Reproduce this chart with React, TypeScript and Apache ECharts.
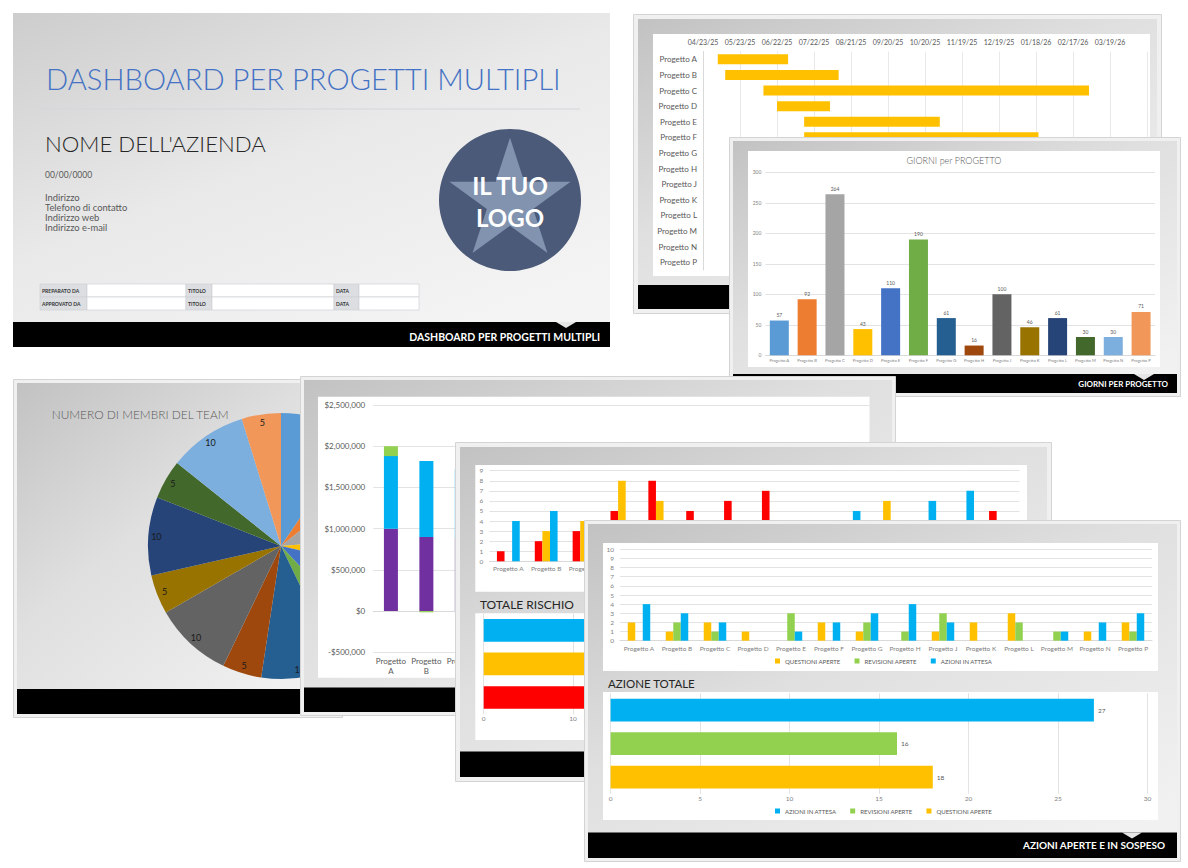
import React, { useEffect, useRef } from "react";
import * as echarts from "echarts";

const FONT = "Lato, 'Open Sans', 'DejaVu Sans', sans-serif";

// ---------- DATA ----------
const projects = ["Progetto A", "Progetto B", "Progetto C", "Progetto D", "Progetto E", "Progetto F", "Progetto G", "Progetto H", "Progetto J", "Progetto K", "Progetto L", "Progetto M", "Progetto N", "Progetto P"];
const projectColors = ["#5b9bd5", "#ed7d31", "#a5a5a5", "#ffc000", "#4472c4", "#70ad47", "#255e91", "#9e480e", "#636363", "#997300", "#264478", "#43682b", "#7cafdd", "#f1975a"];
const projectDays = [57, 92, 264, 43, 110, 190, 61, 16, 100, 46, 61, 30, 30, 71];
const ganttStartOffsets = [12, 18, 49, 60, 82, 82, 100, 125, 150, 175, 200, 230, 255, 270];
const ganttStartDate = Date.UTC(2025, 3, 23);
const teamMembers = [10, 5, 10, 5, 10, 5, 10, 5, 10, 5, 10, 5, 10, 5];
const budgetSpent = [1000000, 900000, 880000, 700000, 950000, 1100000, 600000, 300000, 800000, 500000, 650000, 400000, 350000, 750000];
const budgetRemaining = [880000, 920000, 840000, 500000, 700000, 600000, 400000, 250000, 600000, 300000, 450000, 200000, 250000, 500000];
const budgetOver = [120000, -15000, 0, 0, 0, 0, 0, 0, 0, 0, 0, 0, 0, 0];
const riskHigh = [1, 2, 3, 5, 8, 5, 6, 7, 2, 4, 1, 3, 2, 5];
const riskMedium = [0, 3, 4, 8, 6, 2, 4, 1, 3, 4, 6, 2, 1, 3];
const riskLow = [4, 5, 3, 3, 4, 2, 3, 2, 4, 5, 4, 6, 7, 1];
const riskLevels = ["ALTO", "MEDIO", "BASSO"];
const riskTotals = [54, 47, 53];
const openIssues = [2, 1, 2, 1, 0, 2, 1, 0, 1, 2, 3, 0, 1, 2];
const openReviews = [0, 2, 1, 0, 3, 0, 2, 1, 3, 0, 2, 1, 0, 1];
const pendingActions = [4, 3, 2, 0, 1, 2, 3, 4, 2, 0, 0, 1, 2, 3];
const actionNames = ["QUESTIONI APERTE", "REVISIONI APERTE", "AZIONI IN ATTESA"];
const actionTotals = [18, 16, 27];
const addressLines = ["Indirizzo", "Telefono di contatto", "Indirizzo web", "Indirizzo e-mail"];
const tableRows = [["PREPARATO DA", "TITOLO", "DATA"], ["APPROVATO DA", "TITOLO", "DATA"]];

// ---------- COLORS ----------
const GOLD = "#ffc000";
const GREEN = "#92d050";
const CYAN = "#00b0f0";
const RED = "#ff0000";
const PURPLE = "#7030a0";
const TXT = "#595959";
const TXT2 = "#7f7f7f";
const GRID = "#e3e3e3";

// ---------- HELPERS ----------
function fmtDate(v: number) {
  const d = new Date(ganttStartDate + v * 86400000);
  const mm = String(d.getUTCMonth() + 1).padStart(2, "0");
  const dd = String(d.getUTCDate()).padStart(2, "0");
  const yy = String(d.getUTCFullYear() % 100).padStart(2, "0");
  return `${mm}/${dd}/${yy}`;
}
function fmtMoney(v: number) {
  return (v < 0 ? "-" : "") + "$" + Math.abs(v).toLocaleString("en-US");
}
function grad(c0: string, c1: string, c2: string) {
  return new echarts.graphic.LinearGradient(0, 0, 0.8, 1, [
    { offset: 0, color: c0 },
    { offset: 0.45, color: c1 },
    { offset: 1, color: c2 },
  ]);
}
function txt(text: string, x: number, y: number, size: number, fill: string, extra: any = {}, z = -5) {
  return {
    type: "text",
    z,
    silent: true,
    style: { text, x, y, fill, fontSize: size, fontFamily: FONT, textAlign: "left", textVerticalAlign: "middle", ...extra },
  };
}
function slideFrame(w: number, h: number, inset: number, footerH: number, footer?: { text: string; size: number; right: number }, notchX?: number) {
  const els: any[] = [];
  if (inset > 0) {
    els.push({ type: "rect", z: -20, silent: true, shape: { x: 0.5, y: 0.5, width: w - 1, height: h - 1 }, style: { fill: "#f0f0f0", stroke: "#d4d4d4", lineWidth: 1 } });
  }
  els.push({ type: "rect", z: -19, silent: true, shape: { x: inset, y: inset, width: w - 2 * inset, height: h - 2 * inset }, style: { fill: grad("#c2c2c2", "#dfdfdf", "#f1f1f1") } });
  const fy = h - inset - footerH;
  els.push({ type: "rect", z: -18, silent: true, shape: { x: inset, y: fy, width: w - 2 * inset, height: footerH }, style: { fill: "#000" } });
  if (notchX) {
    els.push({ type: "polygon", z: -17, silent: true, shape: { points: [[notchX - 10, fy], [notchX + 10, fy], [notchX, fy + 6]] }, style: { fill: "#e6e6e6" } });
  }
  if (footer) {
    els.push(txt(footer.text, footer.right, fy + footerH / 2, footer.size, "#fff", { textAlign: "right", fontWeight: "bold" }));
  }
  return els;
}
function panel(x: number, y: number, w: number, h: number) {
  return { type: "rect", z: -15, silent: true, shape: { x, y, width: w, height: h }, style: { fill: "#ffffff" } };
}

// ---------- SLIDE 1: title ----------
function titleOption() {
  const els: any[] = [];
  els.push({ type: "rect", z: -20, silent: true, shape: { x: 0, y: 0, width: 597, height: 334 }, style: { fill: new echarts.graphic.LinearGradient(0, 0, 0.7, 1, [{ offset: 0, color: "#cdcdcd" }, { offset: 0.5, color: "#e9e9e9" }, { offset: 1, color: "#f4f4f4" }]) } });
  els.push(txt("DASHBOARD PER PROGETTI MULTIPLI", 33, 65, 29.2, "#4472c4", { fontWeight: 300 }));
  els.push({ type: "line", z: -5, silent: true, shape: { x1: 27, y1: 96, x2: 567, y2: 96 }, style: { stroke: "#d3d6da", lineWidth: 1 } });
  els.push(txt("NOME DELL'AZIENDA", 32, 130, 22.2, "#262626", { fontWeight: 300 }));
  els.push(txt("00/00/0000", 32, 162, 8.5, TXT));
  addressLines.forEach((t, i) => els.push(txt(t, 32, 184 + i * 10.3, 9.4, TXT)));
  // logo
  els.push({ type: "circle", z: -5, silent: true, shape: { cx: 497, cy: 187, r: 71 }, style: { fill: "#4b5a78" } });
  const pts: number[][] = [];
  for (let i = 0; i < 10; i++) {
    const r = i % 2 === 0 ? 63.7 : 63.7 * 0.382;
    const a = -Math.PI / 2 + (i * Math.PI) / 5;
    pts.push([497 + r * Math.cos(a), 188.4 + r * Math.sin(a)]);
  }
  els.push({ type: "polygon", z: -4, silent: true, shape: { points: pts }, style: { fill: "#8193af" } });
  els.push(txt("IL TUO", 497, 172, 24, "#ffffff", { textAlign: "center", fontWeight: "bold" }, -2));
  els.push(txt("LOGO", 497, 204, 24, "#ffffff", { textAlign: "center", fontWeight: "bold" }, -2));
  // table
  const cols = [27, 74, 173, 199, 321, 346, 406];
  tableRows.forEach((row, r) => {
    const y = 271 + r * 13;
    for (let c = 0; c < 6; c++) {
      const isLabel = c % 2 === 0;
      els.push({ type: "rect", z: -6, silent: true, shape: { x: cols[c], y, width: cols[c + 1] - cols[c], height: 13 }, style: { fill: isLabel ? "#dcdee2" : "#ffffff", stroke: "#cfd1d4", lineWidth: 0.7 } });
      if (isLabel) els.push(txt(row[c / 2], cols[c] + 2, y + 6.5, 5, "#333333", { fontWeight: "bold" }));
    }
  });
  // footer
  els.push({ type: "rect", z: -5, silent: true, shape: { x: 0, y: 309, width: 597, height: 25 }, style: { fill: "#000" } });
  els.push({ type: "polygon", z: -4, silent: true, shape: { points: [[543, 309], [563, 309], [553, 315]] }, style: { fill: "#e6e6e6" } });
  els.push(txt("DASHBOARD PER PROGETTI MULTIPLI", 587, 324, 10.5, "#ffffff", { textAlign: "right", fontWeight: "bold" }, -3));
  return { animation: false, graphic: { elements: els } };
}

// ---------- SLIDE 2: Gantt ----------
function ganttOption() {
  return {
    animation: false,
    graphic: { elements: [...slideFrame(529, 300, 5, 24), panel(20, 20, 497, 242)] },
    grid: { left: 70, top: 37.5, width: 444, height: 218.5 },
    xAxis: {
      type: "value", position: "top", min: 0, max: 360, interval: 30,
      axisLabel: { formatter: fmtDate, fontSize: 7, color: TXT, fontFamily: FONT, margin: 6, showMaxLabel: false },
      axisLine: { show: false }, axisTick: { show: false },
      splitLine: { lineStyle: { color: "#e9e9e9" } },
    },
    yAxis: {
      type: "category", inverse: true, data: projects,
      axisLabel: { fontSize: 8, color: TXT, fontFamily: FONT, margin: 6 },
      axisLine: { lineStyle: { color: "#d9d9d9" } }, axisTick: { show: false },
    },
    series: [
      { name: "Inizio", type: "bar", stack: "g", data: ganttStartOffsets, barWidth: 10, itemStyle: { color: "rgba(0,0,0,0)" }, silent: true },
      { name: "Durata", type: "bar", stack: "g", data: projectDays, barWidth: 10, itemStyle: { color: GOLD } },
    ],
  };
}

// ---------- SLIDE 3: Giorni per progetto ----------
function giorniOption() {
  return {
    animation: false,
    graphic: { elements: [
      ...slideFrame(452, 260, 4, 19, { text: "GIORNI PER PROGETTO", size: 8, right: 439 }, 415),
      panel(19, 14, 412, 216),
      txt("GIORNI per PROGETTO", 225, 23.7, 9, TXT, { textAlign: "center", fontWeight: 300 }),
    ] },
    grid: { left: 36.4, top: 35.3, width: 389.6, height: 183 },
    xAxis: {
      type: "category", data: projects,
      axisLabel: { fontSize: 4.2, color: TXT2, fontFamily: FONT, interval: 0, margin: 3 },
      axisLine: { lineStyle: { color: "#d9d9d9" } }, axisTick: { show: false },
    },
    yAxis: {
      type: "value", min: 0, max: 300, interval: 50,
      axisLabel: { fontSize: 5, color: TXT2, fontFamily: FONT, margin: 4 },
      splitLine: { lineStyle: { color: GRID } },
    },
    series: [{
      name: "Giorni", type: "bar", barWidth: 19,
      data: projectDays.map((v, i) => ({ value: v, itemStyle: { color: projectColors[i] } })),
      label: { show: true, position: "top", fontSize: 5, color: TXT, fontFamily: FONT, distance: 3 },
    }],
  };
}

// ---------- SLIDE 4: Pie ----------
function pieOption() {
  const cx = 268, cy = 167, R = 133, labelR = 122, visibleWidth = 290;
  const data = projects.map((p, i) => ({ name: p, value: teamMembers[i], itemStyle: { color: projectColors[i] } }));
  const total = teamMembers.reduce((a, b) => a + b, 0);
  let acc = 0;
  const labelData = projects.map((p, i) => {
    const mid = ((acc + teamMembers[i] / 2) / total) * 2 * Math.PI;
    acc += teamMembers[i];
    const lx = cx + labelR * Math.sin(mid);
    return { name: p, value: teamMembers[i], itemStyle: { color: "rgba(0,0,0,0)" }, label: { show: lx < visibleWidth } };
  });
  return {
    animation: false,
    graphic: { elements: [...slideFrame(330, 339, 4, 25), txt("NUMERO DI MEMBRI DEL TEAM", 38.7, 35.3, 11.9, TXT, { fontWeight: 300 })] },
    series: [
      { type: "pie", center: [cx, cy], radius: R, startAngle: 90, clockwise: true, data, label: { show: false }, labelLine: { show: false }, silent: true },
      {
        type: "pie", center: [cx, cy], radius: [labelR - 8, labelR + 8], startAngle: 90, clockwise: true, silent: true, avoidLabelOverlap: false,
        data: labelData,
        label: { position: "inside", formatter: "{c}", fontSize: 9, color: "#1a1a1a", fontFamily: FONT },
        labelLine: { show: false },
      },
    ],
  };
}

// ---------- SLIDE 5: Budget stacked ----------
function budgetOption() {
  return {
    animation: false,
    graphic: { elements: [...slideFrame(596, 340, 4, 24.5), panel(18, 20.7, 551.5, 281)] },
    grid: { left: 73.2, top: 29, width: 496.3, height: 247.3 },
    xAxis: {
      type: "category", data: projects,
      axisLabel: { formatter: (v: string) => v.replace(" ", "\n"), fontSize: 8, lineHeight: 9.5, color: TXT, fontFamily: FONT, margin: 4, interval: (i: number) => i < 3 },
      axisLine: { lineStyle: { color: "#d9d9d9" } }, axisTick: { show: false },
    },
    yAxis: {
      type: "value", min: -500000, max: 2500000, interval: 500000,
      axisLabel: { formatter: fmtMoney, fontSize: 8, color: TXT, fontFamily: FONT, margin: 8 },
      splitLine: { lineStyle: { color: GRID } },
    },
    series: [
      { name: "SPESO", type: "bar", stack: "b", barWidth: 14, data: budgetSpent, itemStyle: { color: PURPLE } },
      { name: "RIMANENTE", type: "bar", stack: "b", barWidth: 14, data: budgetRemaining, itemStyle: { color: CYAN } },
      { name: "ECCEDENZA", type: "bar", stack: "b", barWidth: 14, data: budgetOver, itemStyle: { color: GREEN } },
    ],
  };
}

// ---------- SLIDE 6: Risk ----------
function riskOption() {
  const riskColors = [RED, GOLD, CYAN];
  return {
    animation: false,
    graphic: { elements: [
      ...slideFrame(597, 340, 5, 25.6),
      panel(20.3, 23, 551.7, 126.7),
      panel(20.3, 171.3, 551.7, 126.7),
      txt("TOTALE RISCHIO", 24.9, 162, 12, "#262626"),
    ] },
    grid: [
      { left: 34.4, top: 28.7, width: 530, height: 90.6 },
      { left: 28.7, top: 171.6, width: 535.2, height: 100.7 },
    ],
    xAxis: [
      { gridIndex: 0, type: "category", data: projects, axisLabel: { fontSize: 6.5, color: TXT2, fontFamily: FONT, margin: 4, interval: (i: number) => i < 3 }, axisLine: { lineStyle: { color: "#d9d9d9" } }, axisTick: { show: false } },
      { gridIndex: 1, type: "value", min: 0, max: 60, interval: 10, axisLabel: { fontSize: 6.5, color: TXT2, fontFamily: FONT, margin: 1 }, splitLine: { lineStyle: { color: GRID } } },
    ],
    yAxis: [
      { gridIndex: 0, type: "value", min: 0, max: 9, interval: 1, axisLabel: { fontSize: 6.5, color: TXT2, fontFamily: FONT, margin: 6 }, splitLine: { lineStyle: { color: GRID } } },
      { gridIndex: 1, type: "category", data: riskLevels, axisLabel: { show: false }, axisLine: { show: false }, axisTick: { show: false } },
    ],
    series: [
      { name: "ALTO", type: "bar", xAxisIndex: 0, yAxisIndex: 0, data: riskHigh, barWidth: 7.6, barGap: "0%", itemStyle: { color: RED } },
      { name: "MEDIO", type: "bar", xAxisIndex: 0, yAxisIndex: 0, data: riskMedium, barWidth: 7.6, barGap: "0%", itemStyle: { color: GOLD } },
      { name: "BASSO", type: "bar", xAxisIndex: 0, yAxisIndex: 0, data: riskLow, barWidth: 7.6, barGap: "0%", itemStyle: { color: CYAN } },
      { name: "TOTALE", type: "bar", xAxisIndex: 1, yAxisIndex: 1, barWidth: 22.7, data: riskTotals.map((v, i) => ({ value: v, itemStyle: { color: riskColors[i] } })) },
    ],
  };
}

// ---------- SLIDE 7: Azioni ----------
function azioniOption() {
  const seriesColors = [GOLD, GREEN, CYAN];
  const perProject = [openIssues, openReviews, pendingActions];
  const legendStyle = { itemWidth: 5, itemHeight: 5, itemGap: 14, icon: "rect", padding: 0, textStyle: { fontSize: 6, color: TXT, fontFamily: FONT } };
  return {
    animation: false,
    graphic: { elements: [
      ...slideFrame(597, 342, 4, 25.6, { text: "AZIONI APERTE E IN SOSPESO", size: 10, right: 581 }, 548),
      panel(19, 23, 555, 128),
      panel(19, 172, 555, 128),
      txt("AZIONE TOTALE", 24, 163, 11.5, "#262626"),
    ] },
    legend: [
      { ...legendStyle, data: ["QUESTIONI APERTE", "REVISIONI APERTE", "AZIONI IN ATTESA"], left: 191, top: 138 },
      { ...legendStyle, data: ["AZIONI IN ATTESA", "REVISIONI APERTE", "QUESTIONI APERTE"], left: 191, top: 288 },
    ],
    grid: [
      { left: 36, top: 29.3, width: 532, height: 91.4 },
      { left: 26.6, top: 173.3, width: 537, height: 100.5 },
    ],
    xAxis: [
      { gridIndex: 0, type: "category", data: projects, axisLabel: { fontSize: 6.5, color: TXT2, fontFamily: FONT, margin: 4, interval: 0 }, axisLine: { lineStyle: { color: "#d9d9d9" } }, axisTick: { show: false } },
      { gridIndex: 1, type: "value", min: 0, max: 30, interval: 5, axisLabel: { fontSize: 6.5, color: TXT2, fontFamily: FONT, margin: 1 }, splitLine: { lineStyle: { color: GRID } } },
    ],
    yAxis: [
      { gridIndex: 0, type: "value", min: 0, max: 10, interval: 1, axisLabel: { fontSize: 6.5, color: TXT2, fontFamily: FONT, margin: 6 }, splitLine: { lineStyle: { color: GRID } } },
      { gridIndex: 1, type: "category", data: actionNames, axisLabel: { show: false }, axisLine: { show: false }, axisTick: { show: false } },
    ],
    series: [
      ...actionNames.map((n, k) => ({ name: n, type: "bar", xAxisIndex: 0, yAxisIndex: 0, data: perProject[k], barWidth: 7.5, barGap: "0%", itemStyle: { color: seriesColors[k] } })),
      ...actionNames.map((n, k) => ({
        name: n, type: "bar", xAxisIndex: 1, yAxisIndex: 1, stack: "tot", barWidth: 22.7,
        data: actionTotals.map((v, i) => (i === k ? v : "-")),
        itemStyle: { color: seriesColors[k] },
        label: { show: true, position: "right", fontSize: 6.5, color: TXT, fontFamily: FONT, distance: 4 },
      })),
    ],
  };
}

const OPTS = {
  s1: titleOption(),
  s2: ganttOption(),
  s3: giorniOption(),
  s4: pieOption(),
  s5: budgetOption(),
  s6: riskOption(),
  s7: azioniOption(),
};

function Slide({ left, top, width, height, option }: { left: number; top: number; width: number; height: number; option: any }) {
  const ref = useRef<HTMLDivElement>(null);
  useEffect(() => {
    if (!ref.current) return;
    const chart = echarts.init(ref.current, undefined, { renderer: "svg" });
    chart.setOption(option);
    return () => chart.dispose();
  }, [option]);
  return <div ref={ref} style={{ position: "absolute", left, top, width, height }} />;
}

export default function App() {
  return (
    <div style={{ position: "fixed", left: 0, top: 0, width: 1188, height: 868, background: "#ffffff", overflow: "hidden" }}>
      <Slide left={13} top={13} width={597} height={334} option={OPTS.s1} />
      <Slide left={633} top={14} width={529} height={300} option={OPTS.s2} />
      <Slide left={729} top={137} width={452} height={260} option={OPTS.s3} />
      <Slide left={13} top={379} width={330} height={339} option={OPTS.s4} />
      <Slide left={300} top={376} width={596} height={340} option={OPTS.s5} />
      <Slide left={455} top={442} width={597} height={340} option={OPTS.s6} />
      <Slide left={584} top={520} width={597} height={342} option={OPTS.s7} />
    </div>
  );
}
